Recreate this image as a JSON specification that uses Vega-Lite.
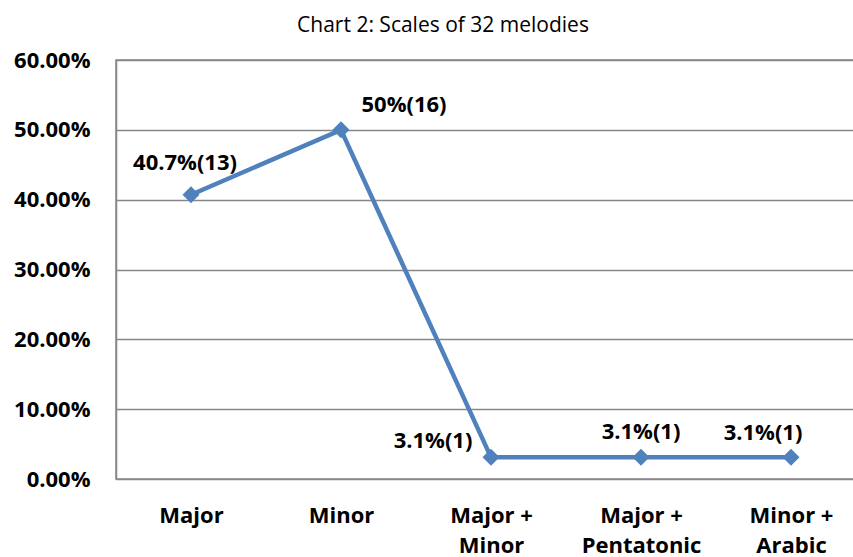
{
  "$schema": "https://vega.github.io/schema/vega-lite/v6.json",
  "width": 750,
  "height": 419,
  "autosize": {"type": "none"},
  "padding": {"left": 116, "top": 60, "right": -13, "bottom": 78},
  "background": "white",
  "title": {"text": "Chart 2: Scales of 32 melodies", "fontSize": 21, "fontWeight": "normal", "font": "Open Sans", "color": "#000000", "anchor": "middle", "dx": -48, "offset": 13},
  "config": {
    "view": {"stroke": "#878787", "strokeWidth": 1.5},
    "font": "Open Sans"
  },
  "data": {
    "values": [
      {"scale": "Major", "share": 0.407, "label": "40.7%(13)"},
      {"scale": "Minor", "share": 0.5, "label": "50%(16)"},
      {"scale": "Major + Minor", "share": 0.031, "label": "3.1%(1)"},
      {"scale": "Major + Pentatonic", "share": 0.031, "label": "3.1%(1)"},
      {"scale": "Minor + Arabic", "share": 0.031, "label": "3.1%(1)"}
    ]
  },
  "encoding": {
    "x": {
      "field": "scale", "type": "nominal", "sort": null,
      "scale": {"type": "point", "padding": 0.5},
      "axis": {
        "title": null, "labelAngle": 0, "ticks": false, "domain": false,
        "labelFontSize": 22, "labelFontWeight": "bold", "labelColor": "#000000",
        "labelPadding": 36, "labelLineHeight": 30, "labelBaseline": "middle",
        "labelExpr": "split(replace(datum.label, '+ ', '+|'), '|')"
      }
    },
    "y": {
      "field": "share", "type": "quantitative",
      "scale": {"domain": [0, 0.6], "nice": false},
      "axis": {
        "title": null, "values": [0, 0.1, 0.2, 0.3, 0.4, 0.5, 0.6], "format": ".2%",
        "ticks": false, "domainColor": "#878787", "domainWidth": 1.5,
        "gridColor": "#878787", "gridWidth": 1.5, "gridOpacity": 1,
        "labelFontSize": 22, "labelFontWeight": "bold", "labelColor": "#000000",
        "labelPadding": 26
      }
    }
  },
  "layer": [
    {"mark": {"type": "line", "color": "#4F81BD", "strokeWidth": 4.5}},
    {"mark": {"type": "point", "shape": "diamond", "filled": true, "opacity": 1, "color": "#4F81BD", "size": 290}},
    {"transform": [{"filter": "datum.scale == 'Major'"}],
     "mark": {"type": "text", "fontSize": 22, "fontWeight": "bold", "color": "#000000", "dx": -6, "dy": -32},
     "encoding": {"text": {"field": "label"}}},
    {"transform": [{"filter": "datum.scale == 'Minor'"}],
     "mark": {"type": "text", "fontSize": 22, "fontWeight": "bold", "color": "#000000", "dx": 63, "dy": -25},
     "encoding": {"text": {"field": "label"}}},
    {"transform": [{"filter": "datum.scale == 'Major + Minor'"}],
     "mark": {"type": "text", "fontSize": 22, "fontWeight": "bold", "color": "#000000", "dx": -58, "dy": -16},
     "encoding": {"text": {"field": "label"}}},
    {"transform": [{"filter": "datum.scale == 'Major + Pentatonic'"}],
     "mark": {"type": "text", "fontSize": 22, "fontWeight": "bold", "color": "#000000", "dx": 0, "dy": -25},
     "encoding": {"text": {"field": "label"}}},
    {"transform": [{"filter": "datum.scale == 'Minor + Arabic'"}],
     "mark": {"type": "text", "fontSize": 22, "fontWeight": "bold", "color": "#000000", "dx": -28, "dy": -24},
     "encoding": {"text": {"field": "label"}}}
  ]
}
